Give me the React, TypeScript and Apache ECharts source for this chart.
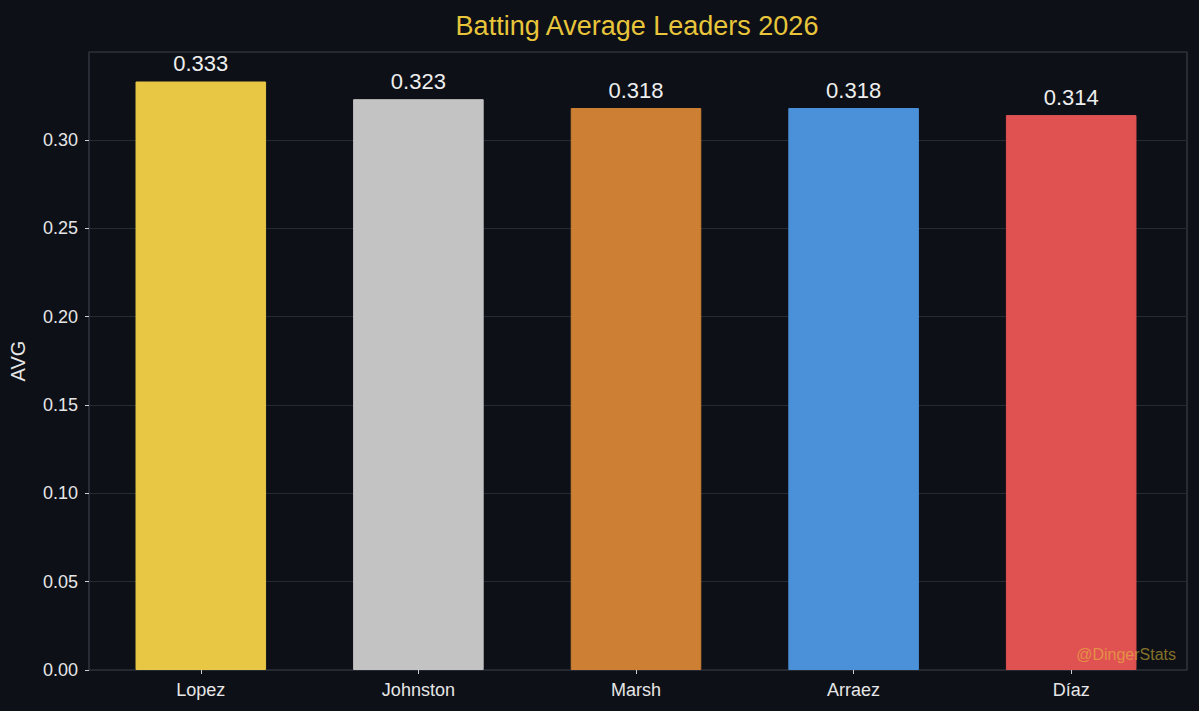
import React, { useEffect, useRef } from "react";
import * as echarts from "echarts";

const players = ["Lopez", "Johnston", "Marsh", "Arraez", "Díaz"];
const averages = [0.333, 0.323, 0.318, 0.318, 0.314];
const barColors = ["#e8c745", "#c3c3c3", "#cd8034", "#4b91d9", "#e05252"];
const yMin = 0;
const yMax = 0.3497;
const yStep = 0.05;

const FONT = "'Liberation Sans', Arial, Helvetica, sans-serif";

export default function App() {
  const ref = useRef<HTMLDivElement>(null);
  useEffect(() => {
    if (!ref.current) return;
    const chart = echarts.init(ref.current, undefined, { renderer: "svg" });
    chart.setOption({
      animation: false,
      backgroundColor: "#0d1017",
      title: {
        text: "Batting Average Leaders 2026",
        left: 632,
        top: 7,
        textAlign: "center",
        textStyle: { color: "#e8c53a", fontSize: 27, fontWeight: "normal", fontFamily: FONT },
      },
      grid: [
        { left: 92, right: 19, top: 52, bottom: 41 },
        { left: 85, right: 12, top: 52, bottom: 41, show: true, borderColor: "#3b3e4a", borderWidth: 1.2 },
      ],
      xAxis: [
        {
          type: "category",
          gridIndex: 0,
          data: players,
          axisLine: { show: false },
          axisTick: { show: true, alignWithLabel: true, length: 4, lineStyle: { color: "#cfcfcf" } },
          axisLabel: { color: "#e6e6e6", fontSize: 18, margin: 11, fontFamily: FONT },
        },
        {
          type: "value",
          gridIndex: 1,
          show: false,
          min: 0,
          max: 1,
        },
      ],
      yAxis: [
        {
          type: "value",
          gridIndex: 0,
          min: yMin,
          max: yMax,
          interval: yStep,
          show: false,
          splitLine: { show: false },
        },
        {
          type: "value",
          gridIndex: 1,
          min: yMin,
          max: yMax,
          interval: yStep,
          name: "AVG",
          nameLocation: "middle",
          nameGap: 61,
          nameTextStyle: { color: "#e6e6e6", fontSize: 20, fontFamily: FONT },
          axisLine: { show: false },
          axisTick: { show: true, length: 4, lineStyle: { color: "#cfcfcf" } },
          axisLabel: {
            color: "#e6e6e6",
            fontSize: 18,
            margin: 11,
            fontFamily: FONT,
            showMaxLabel: false,
            formatter: (v: number) => v.toFixed(2),
          },
          splitLine: { show: true, lineStyle: { color: "#262a33", width: 1 } },
        },
      ],
      series: [
        {
          type: "bar",
          xAxisIndex: 0,
          yAxisIndex: 0,
          barWidth: "60%",
          data: averages.map((v, i) => ({
            value: v,
            itemStyle: { color: barColors[i], borderColor: barColors[i], borderWidth: 1 },
          })),
          label: {
            show: true,
            position: "top",
            distance: 7,
            color: "#eeeeee",
            fontSize: 22,
            fontFamily: FONT,
            formatter: (p: any) => p.value.toFixed(3),
          },
          z: 3,
        },
      ],
      graphic: [
        {
          type: "text",
          right: 23,
          top: 646,
          z: 10,
          style: {
            text: "@DingerStats",
            fill: "rgba(232,197,58,0.55)",
            fontSize: 16,
            fontFamily: FONT,
          },
        },
      ],
    });
    return () => chart.dispose();
  }, []);
  return <div ref={ref} style={{ width: 1199, height: 711, position: "absolute", left: 0, top: 0 }} />;
}
